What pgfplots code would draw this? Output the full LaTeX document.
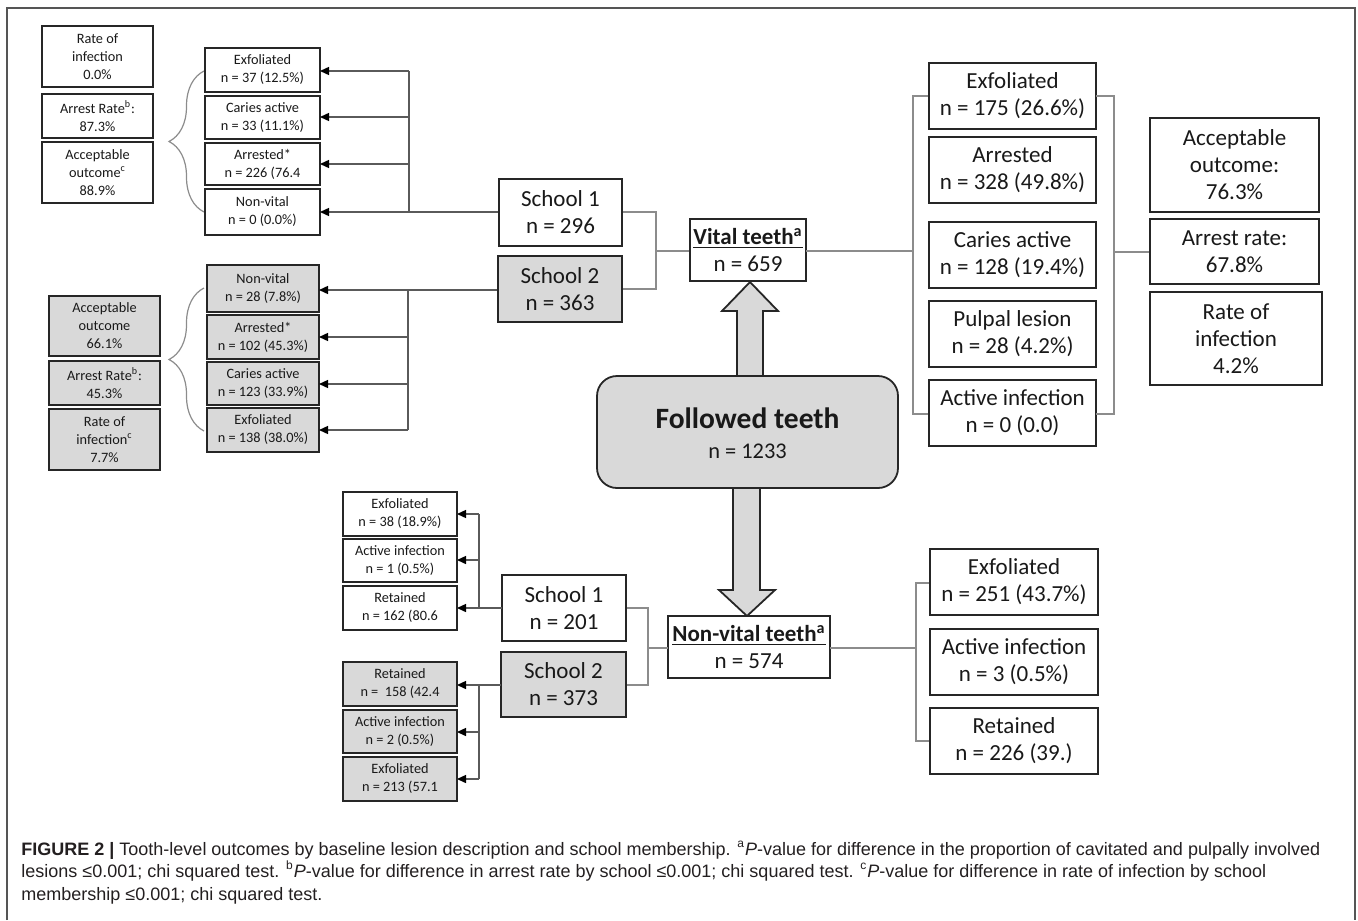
\documentclass[border=0pt]{standalone}
\usepackage{pgfplots}
\pgfplotsset{compat=1.18}
\usepackage{fontspec}
\setmainfont{Carlito}
\newfontfamily\capfont{Liberation Sans}
\usetikzlibrary{arrows.meta,decorations.pathreplacing}
\definecolor{boxgray}{HTML}{D9D9D9}
\definecolor{edge}{HTML}{262626}
\definecolor{conn}{HTML}{8C8C8C}
\definecolor{branch}{HTML}{5A5A5A}
\definecolor{captxt}{HTML}{231F20}
\definecolor{frame}{HTML}{555555}
\tikzset{
  big/.style={font=\fontsize{11.5}{13.5}\selectfont},
  sm/.style={font=\fontsize{7.15}{9}\selectfont},
  cn/.style={conn, line width=0.6pt},
  br/.style={branch, line width=0.7pt},
  ar/.style={branch, line width=0.7pt, -{Triangle[length=4.5pt,width=4pt,color=black]}},
}
\newcommand{\bx}[7]{%
  \draw[edge, line width=0.9pt, fill=#5] (axis cs:#1,#2) rectangle (axis cs:#3,#4);
  \path (axis cs:#1,#2) -- (axis cs:#3,#4) node[midway, align=center, inner sep=0pt, text=black!90, #6] {#7};}
\begin{document}
\begin{tikzpicture}
\begin{axis}[scale only axis, width=679pt, height=460pt,
  xmin=0, xmax=1358, ymin=0, ymax=920, y dir=reverse,
  axis lines=none, clip=false, xtick=\empty, ytick=\empty]
\addplot[draw=none] coordinates {(0,0) (1358,920)};
% frame
\draw[frame, line width=0.8pt] (axis cs:7,920) -- (axis cs:7,8) -- (axis cs:1355,8) -- (axis cs:1355,920);

% ===== vital, school 1 =====
\bx{42}{26}{153}{87}{white}{sm}{Rate of\\infection\\0.0\%}
\bx{42}{94}{153}{138}{white}{sm}{Arrest Rate\textsuperscript{b}:\\87.3\%}
\bx{42}{142}{153}{203}{white}{sm}{Acceptable\\outcome\textsuperscript{c}\\88.9\%}
\draw[conn, line width=0.6pt, decorate, decoration={brace, amplitude=17.5pt}] (axis cs:204,212) -- (axis cs:204,71);
\bx{205}{48}{320}{92}{white}{sm}{Exfoliated\\n = 37 (12.5\%)}
\bx{205}{96}{320}{139}{white}{sm}{Caries active\\n = 33 (11.1\%)}
\bx{205}{143}{320}{185}{white}{sm}{Arrested*\\n = 226 (76.4}
\bx{205}{189}{320}{235}{white}{sm}{Non-vital\\n = 0 (0.0\%)}
\draw[br] (axis cs:499,212) -- (axis cs:409,212);
\draw[br] (axis cs:409,71) -- (axis cs:409,212);
\draw[ar] (axis cs:409,71) -- (axis cs:320,71);
\draw[ar] (axis cs:409,117) -- (axis cs:320,117);
\draw[ar] (axis cs:409,164) -- (axis cs:320,164);
\draw[ar] (axis cs:409,212) -- (axis cs:320,212);

% ===== vital, school 2 =====
\bx{49}{296}{160}{356}{boxgray}{sm}{Acceptable\\outcome\\66.1\%}
\bx{49}{361}{160}{405}{boxgray}{sm}{Arrest Rate\textsuperscript{b}:\\45.3\%}
\bx{49}{409}{160}{470}{boxgray}{sm}{Rate of\\infection\textsuperscript{c}\\7.7\%}
\draw[conn, line width=0.6pt, decorate, decoration={brace, amplitude=17.5pt}] (axis cs:204,431) -- (axis cs:204,288);
\bx{207}{265}{319}{312}{boxgray}{sm}{Non-vital\\n = 28 (7.8\%)}
\bx{207}{315}{319}{359}{boxgray}{sm}{Arrested*\\n = 102 (45.3\%)}
\bx{207}{362}{319}{405}{boxgray}{sm}{Caries active\\n = 123 (33.9\%)}
\bx{207}{408}{319}{452}{boxgray}{sm}{Exfoliated\\n = 138 (38.0\%)}
\draw[br] (axis cs:498,290) -- (axis cs:408,290);
\draw[br] (axis cs:408,290) -- (axis cs:408,430);
\draw[ar] (axis cs:408,290) -- (axis cs:319,290);
\draw[ar] (axis cs:408,337) -- (axis cs:319,337);
\draw[ar] (axis cs:408,384) -- (axis cs:319,384);
\draw[ar] (axis cs:408,430) -- (axis cs:319,430);

% schools (vital)
\draw[cn] (axis cs:622,212) -- (axis cs:656,212) -- (axis cs:656,289) -- (axis cs:622,289);
\draw[cn] (axis cs:656,251) -- (axis cs:690,251);
\bx{499}{179}{622}{246}{white}{big}{School 1\\n = 296}
\bx{498}{256}{622}{322}{boxgray}{big}{School 2\\n = 363}

% vital teeth
\bx{690}{219}{806}{281}{white}{big}{\underline{\textbf{Vital teeth\textsuperscript{a}}}\\n = 659}
\draw[cn] (axis cs:806,251) -- (axis cs:913,251);
\draw[cn] (axis cs:929,96) -- (axis cs:913,96) -- (axis cs:913,414) -- (axis cs:929,414);
\bx{929}{63}{1096}{129}{white}{big}{Exfoliated\\n = 175 (26.6\%)}
\bx{929}{137}{1096}{203}{white}{big}{Arrested\\n = 328 (49.8\%)}
\bx{929}{222}{1096}{288}{white}{big}{Caries active\\n = 128 (19.4\%)}
\bx{929}{301}{1096}{367}{white}{big}{Pulpal lesion\\n = 28 (4.2\%)}
\bx{929}{380}{1096}{446}{white}{big}{Active infection\\n = 0 (0.0)}
\draw[cn] (axis cs:1096,96) -- (axis cs:1114,96) -- (axis cs:1114,414) -- (axis cs:1096,414);
\draw[cn] (axis cs:1114,252) -- (axis cs:1150,252);
\bx{1150}{118}{1319}{212}{white}{big}{Acceptable\\outcome:\\76.3\%}
\bx{1150}{219}{1319}{284}{white}{big}{Arrest rate:\\67.8\%}
\bx{1150}{292}{1322}{385}{white}{big}{Rate of\\infection\\4.2\%}

% arrows from followed teeth
\draw[edge, line width=0.9pt, fill=boxgray] (axis cs:737,376) -- (axis cs:737,311) -- (axis cs:722,311) -- (axis cs:750,282) -- (axis cs:778,311) -- (axis cs:763,311) -- (axis cs:763,376);
\draw[edge, line width=0.9pt, fill=boxgray] (axis cs:733,488) -- (axis cs:733,590) -- (axis cs:719,590) -- (axis cs:747,616) -- (axis cs:775,590) -- (axis cs:760,590) -- (axis cs:760,488);
\draw[edge, line width=0.9pt, fill=boxgray, rounded corners=10pt] (axis cs:597,376) rectangle (axis cs:898,488);
\node[anchor=base, inner sep=0pt, font=\fontsize{14.75}{17}\selectfont\bfseries, text=black!90] at (axis cs:747.5,428) {Followed teeth};
\node[anchor=base, inner sep=0pt, font=\fontsize{11.2}{13}\selectfont, text=black!90] at (axis cs:747.5,458) {n = 1233};

% ===== non-vital =====
\bx{668}{616}{830}{678}{white}{big}{\underline{\textbf{Non-vital teeth\textsuperscript{a}}}\\n = 574}
\draw[cn] (axis cs:668,648) -- (axis cs:648,648);
\draw[cn] (axis cs:626,608) -- (axis cs:648,608) -- (axis cs:648,685) -- (axis cs:626,685);
\bx{502}{575}{626}{641}{white}{big}{School 1\\n = 201}
\bx{501}{652}{626}{717}{boxgray}{big}{School 2\\n = 373}

\draw[br] (axis cs:502,608) -- (axis cs:479,608);
\draw[br] (axis cs:479,514) -- (axis cs:479,608);
\draw[ar] (axis cs:479,514) -- (axis cs:457,514);
\draw[ar] (axis cs:479,560) -- (axis cs:457,560);
\draw[ar] (axis cs:479,608) -- (axis cs:457,608);
\bx{343}{492}{457}{536}{white}{sm}{Exfoliated\\n = 38 (18.9\%)}
\bx{343}{539}{457}{582}{white}{sm}{Active infection\\n = 1 (0.5\%)}
\bx{343}{586}{457}{630}{white}{sm}{Retained\\n = 162 (80.6}

\draw[br] (axis cs:501,685) -- (axis cs:479,685);
\draw[br] (axis cs:479,685) -- (axis cs:479,779);
\draw[ar] (axis cs:479,685) -- (axis cs:457,685);
\draw[ar] (axis cs:479,732) -- (axis cs:457,732);
\draw[ar] (axis cs:479,779) -- (axis cs:457,779);
\bx{343}{662}{457}{706}{boxgray}{sm}{Retained\\n = \ 158 (42.4}
\bx{343}{710}{457}{753}{boxgray}{sm}{Active infection\\n = 2 (0.5\%)}
\bx{343}{757}{457}{801}{boxgray}{sm}{Exfoliated\\n = 213 (57.1}

\draw[cn] (axis cs:830,648) -- (axis cs:916,648);
\draw[cn] (axis cs:930,583) -- (axis cs:916,583) -- (axis cs:916,741) -- (axis cs:930,741);
\bx{930}{549}{1098}{615}{white}{big}{Exfoliated\\n = 251 (43.7\%)}
\bx{930}{629}{1098}{695}{white}{big}{Active infection\\n = 3 (0.5\%)}
\bx{930}{708}{1098}{774}{white}{big}{Retained\\n = 226 (39.)}

% caption
\node[anchor=base west, inner sep=0pt, font=\capfont\fontsize{9}{11}\selectfont, text=captxt] at (axis cs:21,855) {\textbf{FIGURE 2 |} Tooth-level outcomes by baseline lesion description and school membership. \textsuperscript{a}\textit{P}-value for difference in the proportion of cavitated and pulpally involved};
\node[anchor=base west, inner sep=0pt, font=\capfont\fontsize{9}{11}\selectfont, text=captxt] at (axis cs:21,877.5) {lesions ≤0.001; chi squared test. \textsuperscript{b}\textit{P}-value for difference in arrest rate by school ≤0.001; chi squared test. \textsuperscript{c}\textit{P}-value for difference in rate of infection by school};
\node[anchor=base west, inner sep=0pt, font=\capfont\fontsize{9}{11}\selectfont, text=captxt] at (axis cs:21,900) {membership ≤0.001; chi squared test.};
\end{axis}
\end{tikzpicture}
\end{document}
